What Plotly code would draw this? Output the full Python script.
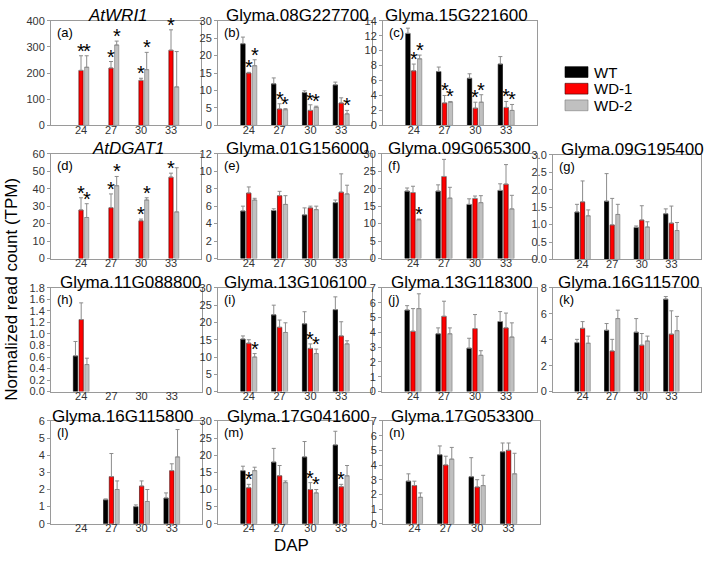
import plotly.graph_objects as go

DAP = ["24", "27", "30", "33"]
SERIES = ["WT", "WD-1", "WD-2"]

# ---------------- data (values, upper error sizes) ----------------
titles = ["<i>AtWRI1</i>", "Glyma.08G227700", "Glyma.15G221600",
          "<i>AtDGAT1</i>", "Glyma.01G156000", "Glyma.09G065300", "Glyma.09G195400",
          "Glyma.11G088800", "Glyma.13G106100", "Glyma.13G118300", "Glyma.16G115700",
          "Glyma.16G115800", "Glyma.17G041600", "Glyma.17G053300"]
letters = ["(a)", "(b)", "(c)", "(d)", "(e)", "(f)", "(g)", "(h)", "(i)", "(j)", "(k)", "(l)", "(m)", "(n)"]

wt = [
    [None, None, None, None],
    [23.4, 11.9, 9.4, 11.6],
    [12.3, 7.2, 6.3, 8.2],
    [None, None, None, None],
    [5.45, 5.5, 5.0, 6.4],
    [19.3, 19.3, 15.5, 19.5],
    [1.36, 1.67, 0.92, 1.31],
    [0.62, None, None, None],
    [15.2, 22.2, 19.6, 23.7],
    [5.5, 3.9, 2.93, 4.73],
    [3.78, 4.73, 4.58, 7.13],
    [None, 1.4, 1.0, 1.5],
    [15.5, 18.0, 19.5, 23.0],
    [2.9, 4.7, 3.2, 4.9],
]
wt_err = [
    [0, 0, 0, 0],
    [1.9, 1.7, 0.5, 0.8],
    [0.7, 0.6, 0.6, 1.0],
    [0, 0, 0, 0],
    [0.55, 0.2, 0.8, 0.3],
    [0.9, 1.8, 1.6, 1.9],
    [0.22, 0.79, 0.04, 0.14],
    [0.25, 0, 0, 0],
    [0.9, 2.8, 3.5, 3.7],
    [0.3, 0.4, 0.67, 0.67],
    [0.25, 0.52, 1.05, 0.2],
    [0, 0.05, 0.1, 0.3],
    [1.3, 4.0, 4.5, 4.0],
    [0.5, 0.6, 1.3, 0.6],
]
wd1 = [
    [210, 219, 172, 287],
    [15.0, 4.7, 4.3, 6.4],
    [7.3, 3.0, 2.3, 2.4],
    [27.8, 29.1, 21.6, 46.6],
    [7.5, 7.2, 5.8, 7.6],
    [18.9, 23.5, 17.2, 21.3],
    [1.65, 0.99, 1.13, 1.04],
    [1.25, None, None, None],
    [14.0, 18.6, 12.5, 16.1],
    [4.07, 5.08, 4.25, 4.3],
    [4.88, 3.13, 3.58, 4.43],
    [None, 2.75, 2.2, 3.1],
    [10.5, 14.0, 10.0, 10.8],
    [2.6, 4.0, 2.5, 5.0],
]
wd1_err = [
    [56, 25, 8, 78],
    [0.2, 1.5, 1.6, 1.5],
    [0.9, 1.0, 0.8, 0.8],
    [7.0, 7.9, 1.0, 2.3],
    [0.7, 0.5, 0.2, 2.1],
    [1.8, 4.9, 0.7, 5.6],
    [0.6, 0.76, 0.41, 0.49],
    [0.29, 0, 0, 0],
    [1.0, 2.1, 1.3, 4.1],
    [1.53, 1.02, 0.95, 1.0],
    [0.52, 0.9, 0.9, 1.8],
    [0, 1.35, 0.3, 0.4],
    [1.0, 3.0, 2.0, 0.7],
    [0.3, 0.6, 0.5, 0.5],
]
wd2 = [
    [222, 307, 213, 147],
    [17.1, 4.5, 5.2, 3.3],
    [8.9, 3.1, 3.1, 2.0],
    [23.5, 41.7, 33.5, 26.7],
    [6.7, 6.2, 5.6, 7.4],
    [11.1, 17.3, 16.0, 14.2],
    [1.25, 1.29, 0.93, 0.83],
    [0.47, None, None, None],
    [10.0, 17.1, 11.0, 13.8],
    [5.6, 3.9, 2.45, 3.68],
    [3.73, 5.63, 3.9, 4.7],
    [None, 2.0, 1.3, 3.9],
    [15.5, 12.0, 9.0, 14.0],
    [1.8, 4.4, 2.6, 3.4],
]
wd2_err = [
    [44, 15, 66, 135],
    [1.7, 0.3, 0.3, 1.0],
    [0.5, 0.1, 1.0, 0.8],
    [7.9, 5.3, 1.3, 25.3],
    [0.2, 1.0, 0.4, 1.0],
    [0.2, 3.1, 2.0, 3.9],
    [0.17, 0.29, 0.15, 0.23],
    [0.11, 0, 0, 0],
    [1.0, 2.8, 1.3, 0.9],
    [1.0, 0.4, 0.31, 0.96],
    [0.55, 0.65, 0.38, 1.1],
    [0, 0.5, 0.7, 1.6],
    [1.0, 0.5, 1.0, 3.0],
    [0.3, 0.8, 0.7, 1.4],
]
# significance marks: (series index 1=WD-1, 2=WD-2, category index)
stars = [
    [(1, 0), (2, 0), (1, 1), (2, 1), (1, 2), (2, 2), (1, 3)],
    [(1, 0), (2, 0), (1, 1), (2, 1), (1, 2), (2, 2), (2, 3)],
    [(1, 0), (2, 0), (1, 1), (2, 1), (1, 2), (2, 2), (1, 3), (2, 3)],
    [(1, 0), (2, 0), (1, 1), (2, 1), (1, 2), (2, 2), (1, 3)],
    [],
    [(2, 0)],
    [],
    [],
    [(2, 0), (1, 2), (2, 2)],
    [],
    [],
    [],
    [(1, 0), (1, 2), (2, 2), (1, 3)],
    [],
]
y_max = [400, 30, 14, 60, 12, 30, 3, 1.8, 30, 7, 8, 6, 30, 7]
y_step = [100, 5, 2, 10, 2, 5, 0.5, 0.2, 5, 1, 2, 1, 5, 1]
y_fmt = ["", "", "", "", "", "", ".1f", ".1f", "", "", "", "", "", ""]

# ---------------- layout geometry (pixels: left, right, top, bottom) ----------------
W, H = 709, 564
boxes = [
    (51, 201, 15, 122), (218, 372, 15, 122), (383, 537, 15, 122),
    (51, 201, 151, 258), (218, 372, 151, 258), (382, 537, 151, 258), (553, 701, 152, 259),
    (51, 202, 288, 394), (218, 372, 288, 394), (382, 537, 288, 394), (553, 701, 288, 394),
    (51, 202, 424, 529), (218, 372, 424, 529), (383, 540, 424, 529),
]
title_cx = [118, 297, 456, 128, 297, 459, 632, 130, 295, 461, 628, 122, 298, 462]
colors = ["#000000", "#ff0000", "#c0c0c0"]
edges = ["#000000", "#3a0000", "#7a7a7a"]
FONT = "Liberation Sans, Arial, sans-serif"

fig = go.Figure()
layout = {}
annotations = []
XR = (-1, 4)
SLOT = 0.19

for i in range(len(titles)):
    k = i + 1
    xa = "x" if k == 1 else f"x{k}"
    ya = "y" if k == 1 else f"y{k}"
    xk = "xaxis" if k == 1 else f"xaxis{k}"
    yk = "yaxis" if k == 1 else f"yaxis{k}"
    l, r, t, b = boxes[i]
    vals = [wt[i], wd1[i], wd2[i]]
    errs = [wt_err[i], wd1_err[i], wd2_err[i]]
    for s in range(3):
        fig.add_trace(go.Bar(
            x=DAP, y=vals[s], xaxis=xa, yaxis=ya, name=SERIES[s],
            marker=dict(color=colors[s], line=dict(color=edges[s], width=0.6)),
            error_y=dict(type="data", array=errs[s], arrayminus=[0] * 4, symmetric=False,
                         color="#8c8c8c", thickness=1, width=2),
            showlegend=False, hoverinfo="skip"))
    layout[xk] = dict(domain=[l / W, r / W], anchor=ya, type="category", range=list(XR),
                      showline=True, mirror=True, linecolor="#9a9a9a", linewidth=1,
                      ticks="", ticklen=0, ticklabelstandoff=-6,
                      showgrid=False, zeroline=False,
                      tickfont=dict(size=11, color="#333333", family=FONT))
    layout[yk] = dict(domain=[1 - b / H, 1 - t / H], anchor=xa, range=[0, y_max[i]],
                      dtick=y_step[i], tick0=0, tickformat=y_fmt[i],
                      showline=True, mirror=True, linecolor="#9a9a9a", linewidth=1,
                      ticks="outside", ticklen=3, tickcolor="#9a9a9a",
                      showgrid=False, zeroline=False,
                      tickfont=dict(size=11, color="#333333", family=FONT))
    # title
    annotations.append(dict(x=title_cx[i] / W, y=1 - (t - 5) / H, xref="paper", yref="paper",
                            text=titles[i], showarrow=False, xanchor="center", yanchor="middle",
                            font=dict(size=17, color="#000000", family=FONT)))
    # panel letter
    annotations.append(dict(x=(l + 4) / W, y=1 - (t + 2) / H, xref="paper", yref="paper",
                            text=letters[i], showarrow=False, xanchor="left", yanchor="top",
                            font=dict(size=13, color="#000000", family=FONT)))
    # significance stars (x given as category index)
    px_per_unit = (r - l) / (XR[1] - XR[0])
    for (s, c) in stars[i]:
        top = vals[s][c] + errs[s][c]
        annotations.append(dict(x=c, y=top, xref=xa, yref=ya, text="*", showarrow=False,
                                xshift=(s - 1) * SLOT * px_per_unit, yanchor="bottom", yshift=-8,
                                font=dict(size=20, color="#000000", family=FONT)))

# legend drawn as layout shapes + text
shapes = []
leg_rows = [(62, 73), (79, 90), (96, 107)]
for s, (y0, y1) in enumerate(leg_rows):
    shapes.append(dict(type="rect", xref="paper", yref="paper",
                       x0=565 / W, x1=588 / W, y0=1 - y1 / H, y1=1 - y0 / H,
                       fillcolor=colors[s], line=dict(color=edges[s], width=0.6)))
    annotations.append(dict(x=592 / W, y=1 - (y0 + y1) / 2 / H, xref="paper", yref="paper",
                            text=SERIES[s], showarrow=False, xanchor="left", yanchor="middle",
                            font=dict(size=15, color="#000000", family=FONT)))

# axis titles
annotations.append(dict(x=12 / W, y=1 - 290 / H, xref="paper", yref="paper",
                        text="Normalized read count (TPM)", showarrow=False, textangle=-90,
                        xanchor="center", yanchor="middle",
                        font=dict(size=17, color="#000000", family=FONT)))
annotations.append(dict(x=291 / W, y=1 - 551 / H, xref="paper", yref="paper",
                        text="DAP", showarrow=False, xanchor="center", yanchor="middle",
                        font=dict(size=17, color="#000000", family=FONT)))

fig.update_layout(**layout)
fig.update_layout(width=W, height=H, autosize=False, margin=dict(l=0, r=0, t=0, b=0),
                  barmode="group", bargap=0.43, bargroupgap=0.26,
                  plot_bgcolor="white", paper_bgcolor="white",
                  annotations=annotations, shapes=shapes, showlegend=False,
                  font=dict(family=FONT))
fig.write_html("out.html", config={"displayModeBar": False},
               post_script="document.body.style.margin='0';document.body.style.padding='0';")
